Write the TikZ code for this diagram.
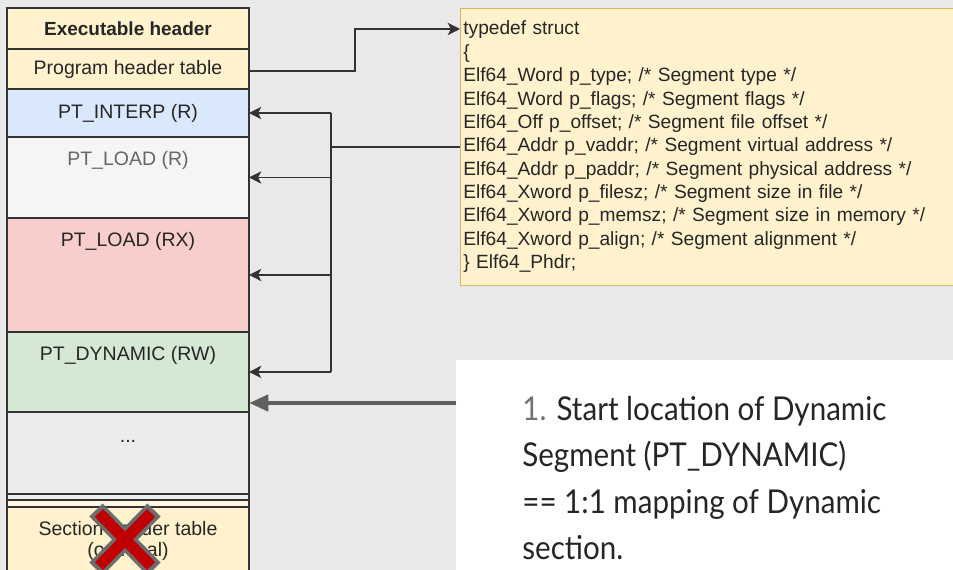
\documentclass[tikz,border=0pt]{standalone}
\usepackage{fontspec}
\setmainfont{Liberation Sans}
\newfontfamily\notefont[FakeStretch=0.9]{Lato}
\usetikzlibrary{positioning,arrows.meta}
\definecolor{page-grey}{RGB}{233,233,233}
\definecolor{hdr-yellow}{RGB}{255,242,204}
\definecolor{hdr-border}{RGB}{214,182,86}
\definecolor{seg-blue}{RGB}{218,232,252}
\definecolor{seg-white}{RGB}{245,245,245}
\definecolor{seg-red}{RGB}{248,206,204}
\definecolor{seg-green}{RGB}{213,232,212}
\definecolor{seg-grey}{RGB}{236,236,236}
\definecolor{cross-red}{RGB}{192,0,0}
\definecolor{cross-grey}{RGB}{108,108,108}
\definecolor{arrow-grey}{RGB}{95,95,95}
\tikzstyle{segment}=[draw=black!80, line width=0.7pt, minimum width=4.84cm, inner sep=0pt, outer sep=0pt, font=\fontsize{11.1}{12}\selectfont, text=black!85]
\tikzstyle{header}=[segment, fill=hdr-yellow]
\tikzstyle{seglabel}=[font=\fontsize{11.1}{12}\selectfont, text=black!85, inner sep=0pt, align=center]
\tikzstyle{link}=[line width=0.8pt, draw=black!80]
\tikzstyle{tip}=[-{Stealth[length=7pt,width=7pt,inset=1.8pt]}]

\begin{document}
\begin{tikzpicture}[x=0.02cm, y=-0.02cm]
	\useasboundingbox (0,0) rectangle (953,570);
	\clip (0,0) rectangle (953,570);
	\fill[page-grey] (0,0) rectangle (953,570);
	% the file layout, top to bottom
	\node[header, minimum height=0.82cm, anchor=north west, font=\fontsize{10.8}{12}\selectfont\bfseries] (exe) at (7,8) {Executable header};
	\node[header, minimum height=0.80cm, below=0pt of exe] (pht) {\raisebox{-2pt}{Program header table}};
	\node[segment, fill=seg-blue, minimum height=0.96cm, below=0pt of pht] (interp) {PT\_INTERP (R)};
	\node[segment, fill=seg-white, minimum height=1.62cm, below=0pt of interp] (loadr) {};
	\node[segment, fill=seg-red, minimum height=2.28cm, below=0pt of loadr] (loadrx) {};
	\node[segment, fill=seg-green, minimum height=1.60cm, below=0pt of loadrx] (dyn) {};
	\node[segment, fill=seg-grey, minimum height=1.64cm, below=0pt of dyn] (dots) {};
	\node[segment, fill=seg-grey, minimum height=0.12cm, below=0pt of dots] (gap) {};
	\node[segment, fill=hdr-yellow!60, minimum height=0.14cm, below=0pt of gap] (gap2) {};
	\node[header, minimum height=1.6cm, below=0pt of gap2] (sht) {};
	\node[seglabel, text=black!60] (loadr-t) at ([yshift=-0.47cm]loadr.north) {PT\_LOAD (R)};
	\node[seglabel] (loadrx-t) at ([yshift=-0.48cm]loadrx.north) {PT\_LOAD (RX)};
	\node[seglabel] (dyn-t) at ([yshift=-0.47cm]dyn.north) {PT\_DYNAMIC (RW)};
	\node[seglabel] (dots-t) at ([yshift=-0.6cm]dots.north) {...};
	\node[seglabel] (sht-t) at ([yshift=-0.68cm]sht.north) {Section header table\\(optional)};
	% crossed out
	\draw[line width=10.5pt, cross-grey] (96,510) -- (154,569) (154,510) -- (96,569);
	\draw[line width=6.4pt, cross-red] (99,513) -- (151,566) (151,513) -- (99,566);
	% Elf64_Phdr
	\node[draw=hdr-border, fill=hdr-yellow, anchor=north west, minimum height=5.54cm, text width=10cm, inner xsep=0.06cm, inner ysep=0pt, align=left, font=\fontsize{10.9}{13.3}\selectfont, text=black!85] (phdr) at (460,8) {typedef struct\\
{\{}\\
Elf64\_Word p\_type; /* Segment type */\\
Elf64\_Word p\_flags; /* Segment flags */\\
Elf64\_Off p\_offset; /* Segment file offset */\\
Elf64\_Addr p\_vaddr; /* Segment virtual address */\\
Elf64\_Addr p\_paddr; /* Segment physical address */\\
Elf64\_Xword p\_filesz; /* Segment size in file */\\
Elf64\_Xword p\_memsz; /* Segment size in memory */\\
Elf64\_Xword p\_align; /* Segment alignment */\\
\} Elf64\_Phdr;};
	\coordinate (phdr-in) at (460,29);
	\draw[link, tip] ([yshift=-0.04cm]pht.east) -- ++(106,0) |- (phdr-in);
	% p_vaddr points at every segment
	\draw[link] (phdr.west) -- ++(-129,0) coordinate (bus);
	\draw[link] (bus |- interp.east) -- (bus |- dyn.east);
	\foreach \seg in {interp,loadr,loadrx,dyn}
		\draw[link, tip] (bus |- \seg.east) -- (\seg.east);
	% note
	\node[fill=white, anchor=north west, minimum width=10cm, minimum height=5cm] (note) at (456,360) {};
	\node[anchor=north west, align=left, inner sep=0pt, font=\notefont\fontsize{18.7}{26.4}\selectfont, text=black!85] (note-t) at (522,396) {{\color{black!55}1.} Start location of Dynamic\\Segment (PT\_DYNAMIC)\\== 1:1 mapping of Dynamic\\section.};
	\coordinate (note-in) at (456,403);
	\draw[line width=2.8pt, arrow-grey, -{Triangle[length=11pt,width=9pt]}] (note-in) -- (dyn.east |- note-in);
\end{tikzpicture}
\end{document}
